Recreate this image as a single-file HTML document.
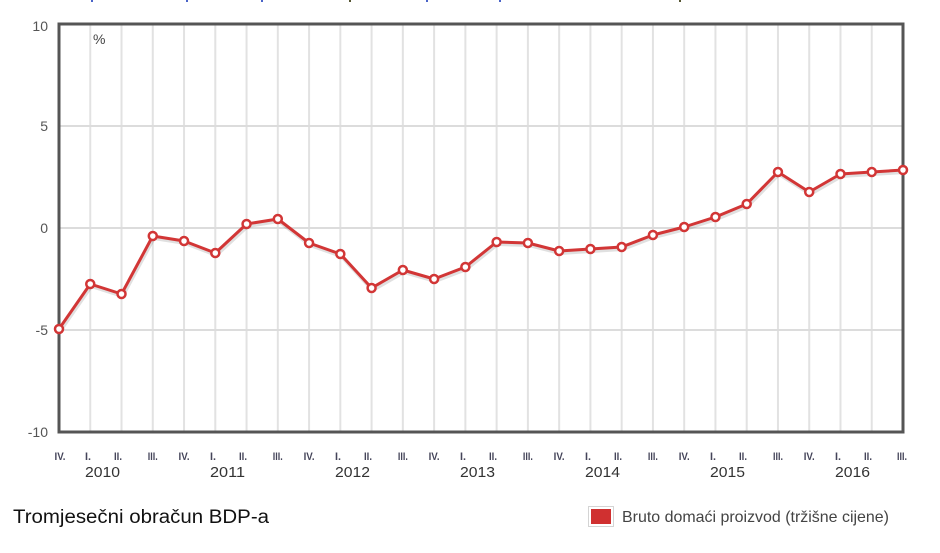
<!DOCTYPE html>
<html>
<head>
<meta charset="utf-8">
<style>
html,body{margin:0;padding:0;background:#fff;}
body{width:940px;height:553px;overflow:hidden;}
svg{display:block;}
text{font-family:"Liberation Sans",Arial,sans-serif;}
</style>
</head>
<body>
<svg width="940" height="553" viewBox="0 0 940 553" xmlns="http://www.w3.org/2000/svg">
  <rect x="0" y="0" width="940" height="553" fill="#fff"/>
  <g fill="#4a64c8">
    <rect x="91" y="0" width="2" height="2"/>
    <rect x="186" y="0" width="2" height="2"/>
    <rect x="261" y="0" width="2" height="2"/>
    <rect x="349" y="0" width="2" height="2" fill="#553"/>
    <rect x="426" y="0" width="2" height="2"/>
    <rect x="499" y="0" width="2" height="2"/>
    <rect x="679" y="0" width="2" height="2" fill="#553"/>
  </g>

  <g stroke="#e2e2e2" stroke-width="2">
    <line x1="90.26" y1="24" x2="90.26" y2="432"/>
    <line x1="121.52" y1="24" x2="121.52" y2="432"/>
    <line x1="152.78" y1="24" x2="152.78" y2="432"/>
    <line x1="184.04" y1="24" x2="184.04" y2="432"/>
    <line x1="215.30" y1="24" x2="215.30" y2="432"/>
    <line x1="246.56" y1="24" x2="246.56" y2="432"/>
    <line x1="277.81" y1="24" x2="277.81" y2="432"/>
    <line x1="309.07" y1="24" x2="309.07" y2="432"/>
    <line x1="340.33" y1="24" x2="340.33" y2="432"/>
    <line x1="371.59" y1="24" x2="371.59" y2="432"/>
    <line x1="402.85" y1="24" x2="402.85" y2="432"/>
    <line x1="434.11" y1="24" x2="434.11" y2="432"/>
    <line x1="465.37" y1="24" x2="465.37" y2="432"/>
    <line x1="496.63" y1="24" x2="496.63" y2="432"/>
    <line x1="527.89" y1="24" x2="527.89" y2="432"/>
    <line x1="559.15" y1="24" x2="559.15" y2="432"/>
    <line x1="590.41" y1="24" x2="590.41" y2="432"/>
    <line x1="621.67" y1="24" x2="621.67" y2="432"/>
    <line x1="652.93" y1="24" x2="652.93" y2="432"/>
    <line x1="684.19" y1="24" x2="684.19" y2="432"/>
    <line x1="715.44" y1="24" x2="715.44" y2="432"/>
    <line x1="746.70" y1="24" x2="746.70" y2="432"/>
    <line x1="777.96" y1="24" x2="777.96" y2="432"/>
    <line x1="809.22" y1="24" x2="809.22" y2="432"/>
    <line x1="840.48" y1="24" x2="840.48" y2="432"/>
    <line x1="871.74" y1="24" x2="871.74" y2="432"/>
  </g>
  <g stroke="#dcdcdc" stroke-width="2">
    <line x1="59" y1="126" x2="903" y2="126"/>
    <line x1="59" y1="228" x2="903" y2="228"/>
    <line x1="59" y1="330" x2="903" y2="330"/>
  </g>

  <rect x="59" y="24" width="844" height="408" fill="none" stroke="#555" stroke-width="3"/>

  <g font-size="14" fill="#555" text-anchor="end">
    <text x="48" y="31">10</text>
    <text x="48" y="131">5</text>
    <text x="48" y="233">0</text>
    <text x="48" y="335">-5</text>
    <text x="48" y="437">-10</text>
  </g>
  <text x="93" y="44" font-size="14" fill="#444">%</text>

  <polyline fill="none" stroke="rgba(0,0,0,0.12)" stroke-width="4" stroke-linejoin="round" transform="translate(1,2)"
    points="59,329 90.26,284 121.52,294 152.78,236 184.04,241 215.30,253 246.56,224 277.81,219 309.07,243 340.33,254 371.59,288 402.85,270 434.11,279 465.37,267 496.63,242 527.89,243 559.15,251 590.41,249 621.67,247 652.93,235 684.19,227 715.44,217 746.70,204 777.96,172 809.22,192 840.48,174 871.74,172 903,170"/>
  <polyline fill="none" stroke="#d23636" stroke-width="3" stroke-linejoin="round"
    points="59,329 90.26,284 121.52,294 152.78,236 184.04,241 215.30,253 246.56,224 277.81,219 309.07,243 340.33,254 371.59,288 402.85,270 434.11,279 465.37,267 496.63,242 527.89,243 559.15,251 590.41,249 621.67,247 652.93,235 684.19,227 715.44,217 746.70,204 777.96,172 809.22,192 840.48,174 871.74,172 903,170"/>
  <g fill="#fff" stroke="#d23636" stroke-width="2.5">
    <circle cx="59" cy="329" r="4"/>
    <circle cx="90.26" cy="284" r="4"/>
    <circle cx="121.52" cy="294" r="4"/>
    <circle cx="152.78" cy="236" r="4"/>
    <circle cx="184.04" cy="241" r="4"/>
    <circle cx="215.30" cy="253" r="4"/>
    <circle cx="246.56" cy="224" r="4"/>
    <circle cx="277.81" cy="219" r="4"/>
    <circle cx="309.07" cy="243" r="4"/>
    <circle cx="340.33" cy="254" r="4"/>
    <circle cx="371.59" cy="288" r="4"/>
    <circle cx="402.85" cy="270" r="4"/>
    <circle cx="434.11" cy="279" r="4"/>
    <circle cx="465.37" cy="267" r="4"/>
    <circle cx="496.63" cy="242" r="4"/>
    <circle cx="527.89" cy="243" r="4"/>
    <circle cx="559.15" cy="251" r="4"/>
    <circle cx="590.41" cy="249" r="4"/>
    <circle cx="621.67" cy="247" r="4"/>
    <circle cx="652.93" cy="235" r="4"/>
    <circle cx="684.19" cy="227" r="4"/>
    <circle cx="715.44" cy="217" r="4"/>
    <circle cx="746.70" cy="204" r="4"/>
    <circle cx="777.96" cy="172" r="4"/>
    <circle cx="809.22" cy="192" r="4"/>
    <circle cx="840.48" cy="174" r="4"/>
    <circle cx="871.74" cy="172" r="4"/>
    <circle cx="903" cy="170" r="4"/>
  </g>

  <g font-size="11" font-weight="bold" fill="#45455a" text-anchor="middle">
    <text x="60" y="460" textLength="11" lengthAdjust="spacingAndGlyphs">IV.</text>
    <text x="88" y="460" textLength="6" lengthAdjust="spacingAndGlyphs">I.</text>
    <text x="118" y="460" textLength="8" lengthAdjust="spacingAndGlyphs">II.</text>
    <text x="152.78" y="460" textLength="10" lengthAdjust="spacingAndGlyphs">III.</text>
    <text x="184.04" y="460" textLength="11" lengthAdjust="spacingAndGlyphs">IV.</text>
    <text x="213" y="460" textLength="6" lengthAdjust="spacingAndGlyphs">I.</text>
    <text x="243" y="460" textLength="8" lengthAdjust="spacingAndGlyphs">II.</text>
    <text x="277.81" y="460" textLength="10" lengthAdjust="spacingAndGlyphs">III.</text>
    <text x="309.07" y="460" textLength="11" lengthAdjust="spacingAndGlyphs">IV.</text>
    <text x="338" y="460" textLength="6" lengthAdjust="spacingAndGlyphs">I.</text>
    <text x="368" y="460" textLength="8" lengthAdjust="spacingAndGlyphs">II.</text>
    <text x="402.85" y="460" textLength="10" lengthAdjust="spacingAndGlyphs">III.</text>
    <text x="434.11" y="460" textLength="11" lengthAdjust="spacingAndGlyphs">IV.</text>
    <text x="463" y="460" textLength="6" lengthAdjust="spacingAndGlyphs">I.</text>
    <text x="493" y="460" textLength="8" lengthAdjust="spacingAndGlyphs">II.</text>
    <text x="527.89" y="460" textLength="10" lengthAdjust="spacingAndGlyphs">III.</text>
    <text x="559.15" y="460" textLength="11" lengthAdjust="spacingAndGlyphs">IV.</text>
    <text x="588" y="460" textLength="6" lengthAdjust="spacingAndGlyphs">I.</text>
    <text x="618" y="460" textLength="8" lengthAdjust="spacingAndGlyphs">II.</text>
    <text x="652.93" y="460" textLength="10" lengthAdjust="spacingAndGlyphs">III.</text>
    <text x="684.19" y="460" textLength="11" lengthAdjust="spacingAndGlyphs">IV.</text>
    <text x="713" y="460" textLength="6" lengthAdjust="spacingAndGlyphs">I.</text>
    <text x="743" y="460" textLength="8" lengthAdjust="spacingAndGlyphs">II.</text>
    <text x="777.96" y="460" textLength="10" lengthAdjust="spacingAndGlyphs">III.</text>
    <text x="809.22" y="460" textLength="11" lengthAdjust="spacingAndGlyphs">IV.</text>
    <text x="838" y="460" textLength="6" lengthAdjust="spacingAndGlyphs">I.</text>
    <text x="868" y="460" textLength="8" lengthAdjust="spacingAndGlyphs">II.</text>
    <text x="902" y="460" textLength="10" lengthAdjust="spacingAndGlyphs">III.</text>
  </g>
  <g font-size="14.5" fill="#333" text-anchor="middle">
    <text x="102.5" y="477" textLength="35" lengthAdjust="spacingAndGlyphs">2010</text>
    <text x="227.5" y="477" textLength="35" lengthAdjust="spacingAndGlyphs">2011</text>
    <text x="352.5" y="477" textLength="35" lengthAdjust="spacingAndGlyphs">2012</text>
    <text x="477.5" y="477" textLength="35" lengthAdjust="spacingAndGlyphs">2013</text>
    <text x="602.5" y="477" textLength="35" lengthAdjust="spacingAndGlyphs">2014</text>
    <text x="727.5" y="477" textLength="35" lengthAdjust="spacingAndGlyphs">2015</text>
    <text x="852.5" y="477" textLength="35" lengthAdjust="spacingAndGlyphs">2016</text>
  </g>

  <text x="13" y="523" font-size="19" fill="#111" textLength="256" lengthAdjust="spacingAndGlyphs">Tromjesečni obračun BDP-a</text>

  <rect x="588.5" y="506.5" width="25" height="20" fill="#fff" stroke="#d4d4d4" stroke-width="1"/>
  <rect x="591" y="509" width="20" height="15" fill="#d03030"/>
  <text x="622" y="522" font-size="16" fill="#444" textLength="267" lengthAdjust="spacingAndGlyphs">Bruto domaći proizvod (tržišne cijene)</text>
</svg>
</body>
</html>
